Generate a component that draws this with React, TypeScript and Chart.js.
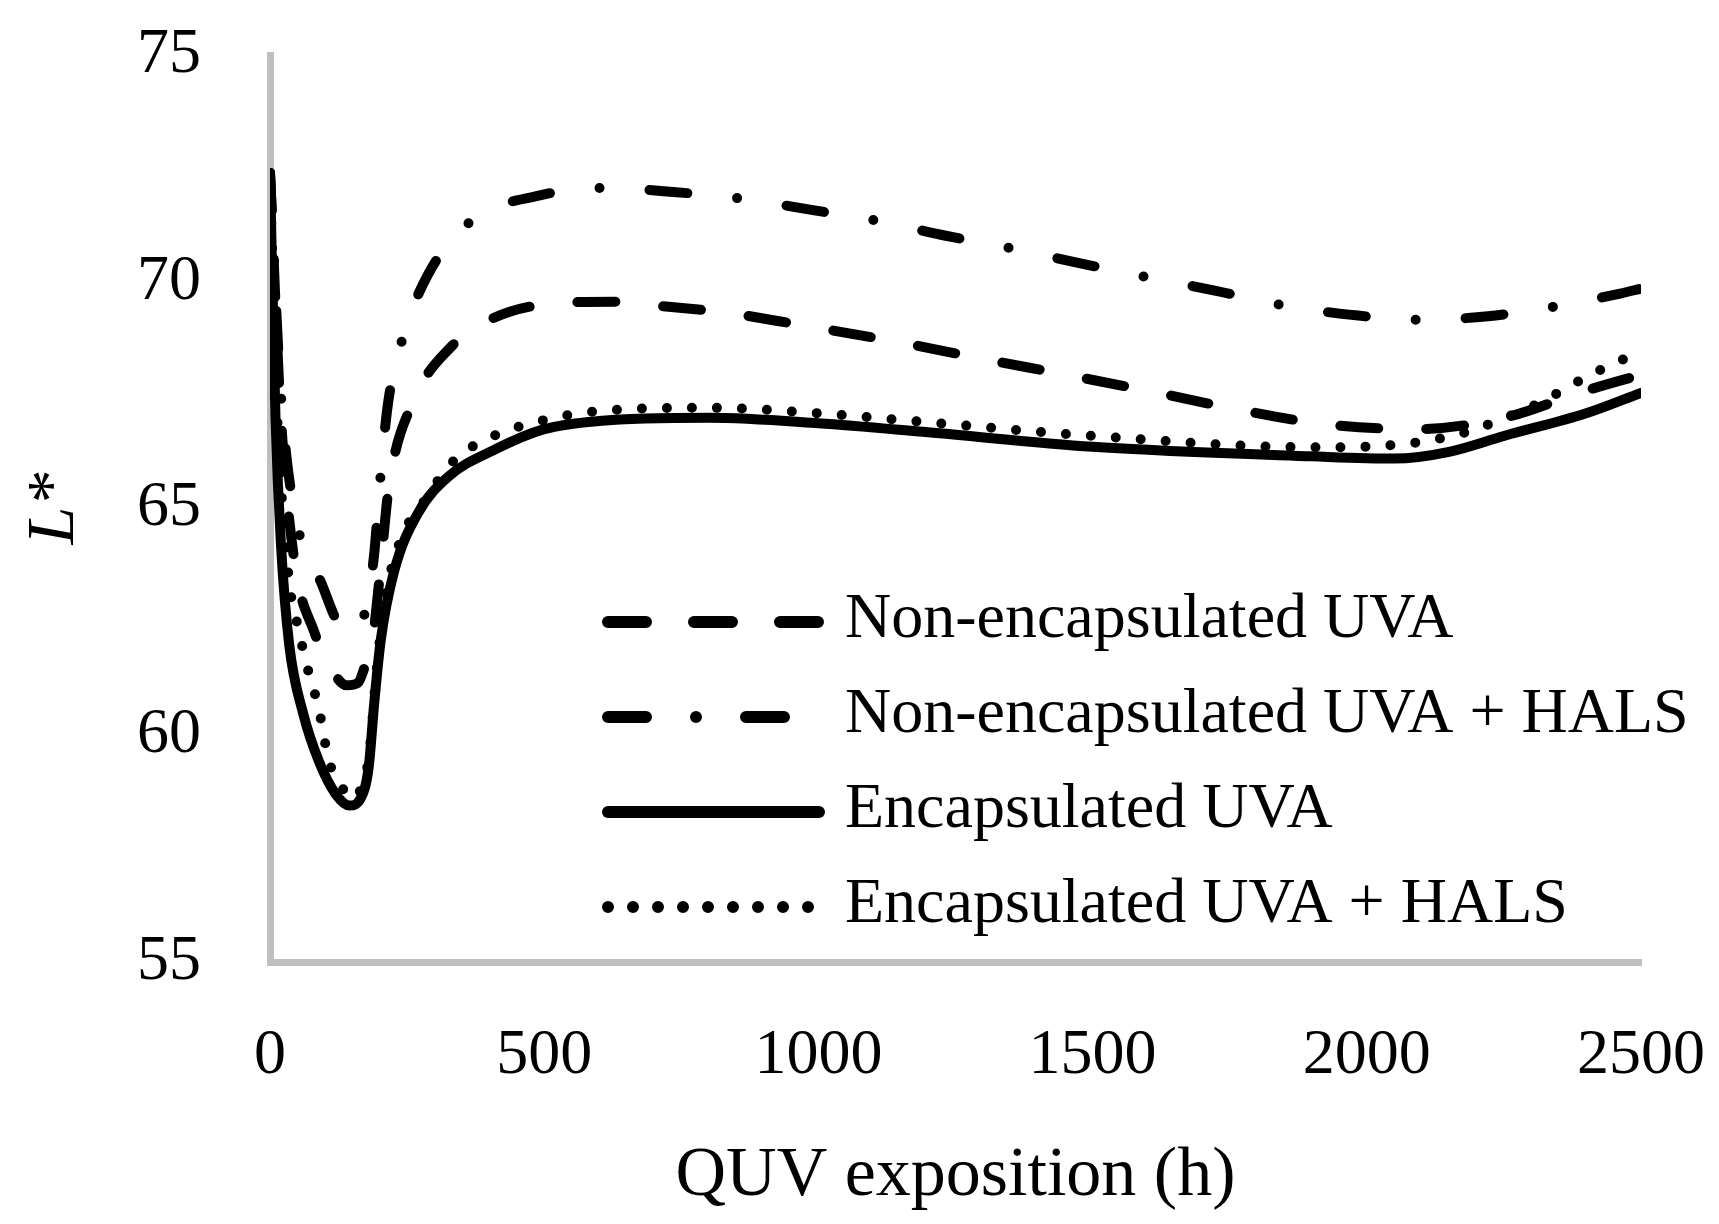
import { useEffect, useRef } from "react"
import { Chart, registerables } from "chart.js"

Chart.register(...registerables)

// QUV exposition (h) and L* readings for each formulation
const nonEncUvaHours = [0, 20, 45, 80, 110, 140, 160, 175, 187, 200, 217, 263, 333, 390, 500, 630, 715, 830, 990, 1150, 1300, 1460, 1615, 1770, 1930, 2090, 2250, 2400, 2500]
const nonEncUvaValues = [72.4, 67.0, 63.8, 62.3, 61.5, 61.1, 61.15, 61.6, 62.1, 63.5, 65.5, 67.4, 68.6, 69.1, 69.5, 69.56, 69.46, 69.32, 69.0, 68.66, 68.3, 67.93, 67.56, 67.17, 66.85, 66.75, 67.0, 67.6, 67.95]

const nonEncHalsHours = [0, 20, 56, 92, 123, 150, 175, 190, 200, 215, 243, 290, 370, 490, 612, 735, 861, 990, 1109, 1230, 1355, 1480, 1600, 1725, 1847, 1972, 2096, 2221, 2346, 2462, 2500]
const nonEncHalsValues = [72.4, 67.5, 64.3, 63.4, 62.5, 62.25, 62.8, 64.0, 65.5, 67.3, 68.8, 70.2, 71.37, 71.9, 72.07, 71.98, 71.83, 71.58, 71.34, 71.02, 70.73, 70.4, 70.1, 69.8, 69.48, 69.27, 69.16, 69.24, 69.46, 69.74, 69.85]

const encUvaHours = [0, 10, 20, 35, 60, 90, 120, 145, 165, 180, 190, 202, 226, 270, 325, 410, 500, 600, 800, 1000, 1200, 1500, 1900, 2050, 2150, 2250, 2400, 2500]
const encUvaValues = [72.4, 67.0, 64.2, 62.0, 60.5, 59.4, 58.7, 58.45, 58.6, 59.3, 60.7, 62.1, 63.6, 64.9, 65.7, 66.3, 66.75, 66.93, 67.0, 66.88, 66.68, 66.36, 66.15, 66.1, 66.25, 66.6, 67.1, 67.55]

const encHalsHours = [0, 10, 20, 38, 47, 68, 80, 92, 101, 111, 134, 148, 165, 180, 195, 210, 238, 281, 335, 408, 500, 600, 800, 1000, 1200, 1500, 1900, 2050, 2140, 2185, 2310, 2390, 2470, 2500]
const encHalsValues = [72.4, 68.0, 65.5, 63.1, 62.6, 61.5, 61.0, 60.4, 59.8, 59.3, 58.8, 58.6, 58.8, 59.5, 61.5, 63.0, 64.3, 65.16, 66.05, 66.6, 66.95, 67.15, 67.22, 67.1, 66.9, 66.6, 66.35, 66.4, 66.56, 66.7, 67.3, 67.83, 68.3, 68.4]

const seriesLabels = [
  "Non-encapsulated UVA",
  "Non-encapsulated UVA + HALS",
  "Encapsulated UVA",
  "Encapsulated UVA + HALS",
]

const xTicks = [0, 500, 1000, 1500, 2000, 2500]
const yTicks = [55, 60, 65, 70, 75]

const FONT = '"Liberation Serif", "Times New Roman", serif'
const AXIS_GREY = "#bfbfbf"

const dashes = [[38, 48], [38, 50, 0, 50], [], [0, 25]]

const toPoints = (hours: number[], values: number[]) =>
  hours.map((h, i) => ({ x: h, y: values[i] }))

// legend drawn inside the plot, with line samples that use each dataset's dash
const lineLegend = {
  id: "lineLegend",
  afterDraw(chart: Chart) {
    const { ctx, chartArea } = chart
    const x0 = chartArea.left + 338
    const x1 = chartArea.left + 549
    const textX = chartArea.left + 575
    const rowOffsets = [342, 247, 152, 57]
    ctx.save()
    chart.data.datasets.forEach((ds: any, i: number) => {
      const y = chartArea.bottom - rowOffsets[i]
      ctx.beginPath()
      ctx.setLineDash(ds.borderDash || [])
      ctx.lineWidth = 12
      ctx.lineCap = "round"
      ctx.strokeStyle = "#000"
      ctx.moveTo(x0, y + 2)
      ctx.lineTo(x1, y + 2)
      ctx.stroke()
      ctx.setLineDash([])
      ctx.fillStyle = "#000"
      ctx.font = `64px ${FONT}`
      ctx.textAlign = "left"
      ctx.textBaseline = "middle"
      ctx.fillText(ds.label, textX, y)
    })
    ctx.restore()
  },
}

export default function App() {
  const canvasRef = useRef<HTMLCanvasElement>(null)
  const chartRef = useRef<Chart | null>(null)

  useEffect(() => {
    if (!canvasRef.current) return
    if (chartRef.current) chartRef.current.destroy()

    const series = [
      toPoints(nonEncUvaHours, nonEncUvaValues),
      toPoints(nonEncHalsHours, nonEncHalsValues),
      toPoints(encUvaHours, encUvaValues),
      toPoints(encHalsHours, encHalsValues),
    ]

    chartRef.current = new Chart(canvasRef.current, {
      type: "line",
      data: {
        datasets: series.map((pts, i) => ({
          label: seriesLabels[i],
          data: pts,
          borderColor: "#000",
          borderWidth: 10,
          borderDash: dashes[i],
          borderCapStyle: "round" as const,
          borderJoinStyle: "round" as const,
          cubicInterpolationMode: "monotone" as const,
          pointRadius: 0,
          fill: false,
        })),
      },
      options: {
        animation: false,
        responsive: true,
        maintainAspectRatio: false,
        layout: { padding: { left: 0, right: 78, top: 55, bottom: 0 } },
        plugins: {
          legend: { display: false },
          tooltip: { enabled: false },
        },
        scales: {
          x: {
            type: "linear",
            min: 0,
            max: 2500,
            afterBuildTicks: (scale: any) => {
              scale.ticks = xTicks.map((v) => ({ value: v }))
            },
            afterFit: (scale: any) => {
              scale.height = 262
            },
            grid: { display: false, drawTicks: true, tickLength: 56 },
            border: { display: true, color: AXIS_GREY, width: 7 },
            ticks: {
              color: "#000",
              padding: 0,
              maxRotation: 0,
              autoSkip: false,
              callback: (v: any) => String(v),
              font: { family: FONT, size: 64 },
            },
            title: {
              display: true,
              text: "QUV exposition (h)",
              color: "#000",
              font: { family: FONT, size: 70 },
              padding: { top: 0, bottom: 5 },
            },
          },
          y: {
            min: 55,
            max: 75,
            afterBuildTicks: (scale: any) => {
              scale.ticks = yTicks.map((v) => ({ value: v }))
            },
            afterFit: (scale: any) => {
              scale.width = 270
            },
            grid: { display: false, drawTicks: true, tickLength: 69 },
            border: { display: true, color: AXIS_GREY, width: 7 },
            ticks: {
              color: "#000",
              padding: 0,
              callback: (v: any) => String(v),
              font: { family: FONT, size: 64 },
            },
            title: {
              display: true,
              text: "L*",
              color: "#000",
              font: { family: FONT, size: 68, style: "italic" },
              padding: { top: 14, bottom: 0 },
            },
          },
        },
      },
      plugins: [lineLegend],
    })

    return () => {
      if (chartRef.current) chartRef.current.destroy()
    }
  }, [])

  return (
    <div style={{ position: "absolute", left: 0, top: 0, width: 1719, height: 1224, background: "#fff" }}>
      <canvas ref={canvasRef} />
    </div>
  )
}
